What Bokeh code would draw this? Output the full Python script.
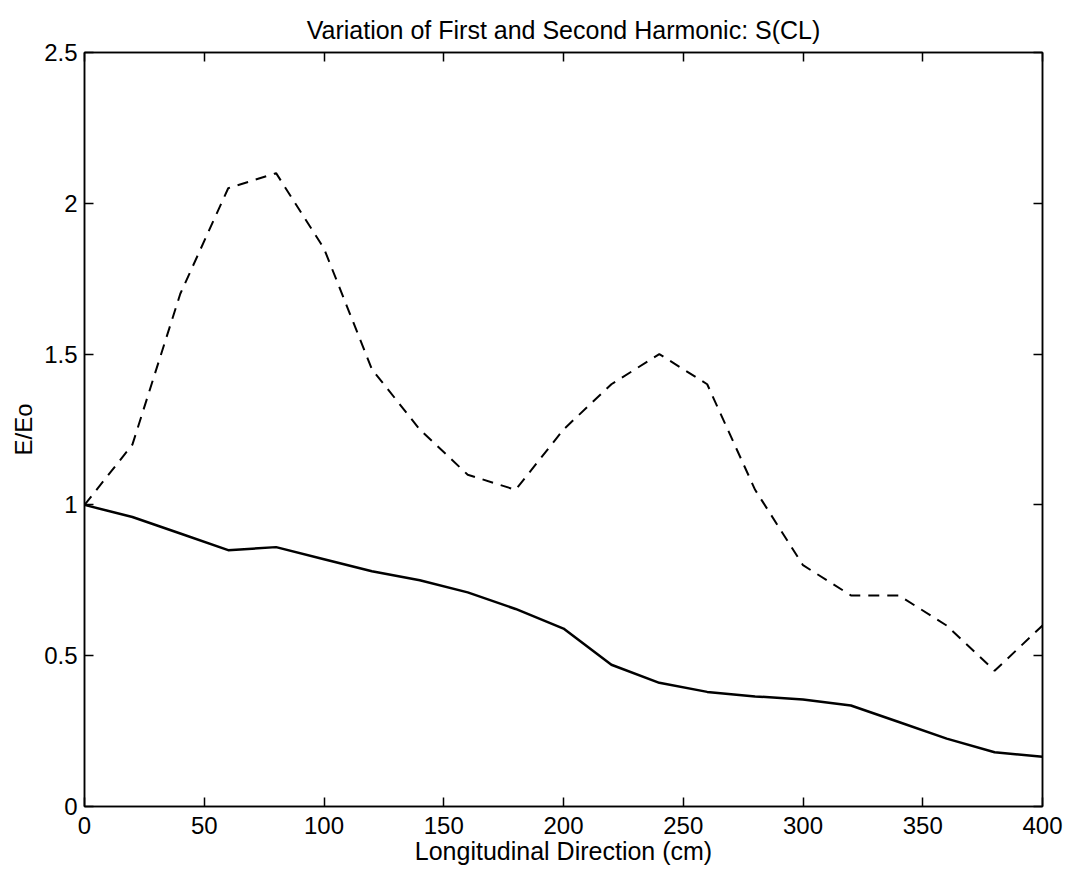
from bokeh.plotting import figure
from bokeh.models import Range1d, LinearAxis, FixedTicker
from bokeh.embed import file_html
from bokeh.resources import INLINE

# Data
x_cm = [0, 20, 40, 60, 80, 100, 120, 140, 160, 180, 200,
        220, 240, 260, 280, 300, 320, 340, 360, 380, 400]
first_harmonic = [1.0, 0.96, 0.905, 0.85, 0.86, 0.82, 0.78, 0.75, 0.71, 0.655, 0.59,
                  0.47, 0.41, 0.38, 0.365, 0.355, 0.335, 0.28, 0.225, 0.18, 0.165]
second_harmonic = [1.0, 1.2, 1.7, 2.05, 2.1, 1.85, 1.45, 1.25, 1.1, 1.05, 1.25,
                   1.4, 1.5, 1.4, 1.05, 0.8, 0.7, 0.7, 0.6, 0.45, 0.6]
x_ticks = [0, 50, 100, 150, 200, 250, 300, 350, 400]
y_ticks = [0, 0.5, 1, 1.5, 2, 2.5]
y_tick_labels = ["0", "0.5", "1", "1.5", "2", "2.5"]

FONT = "Liberation Sans"

p = figure(width=1071, height=878, x_range=Range1d(0, 400), y_range=Range1d(0, 2.5),
           output_backend="svg", toolbar_location=None,
           min_border_left=84, min_border_right=29, min_border_top=52, min_border_bottom=72,
           title="Variation of First and Second Harmonic: S(CL)")
p.background_fill_color = "white"
p.border_fill_color = "white"
p.grid.visible = False
p.outline_line_color = "black"
p.outline_line_width = 1.5

p.title.align = "center"
p.title.text_font = FONT
p.title.text_font_size = "25px"
p.title.text_font_style = "normal"
p.title.text_color = "black"
p.title.standoff = 18

p.line(x_cm, first_harmonic, line_color="black", line_width=2.5)
p.line(x_cm, second_harmonic, line_color="black", line_width=2, line_dash="11 8")

def style(ax, ticks):
    ax.ticker = FixedTicker(ticks=ticks)
    ax.minor_tick_line_color = None
    ax.major_tick_in = 9
    ax.major_tick_out = 0
    ax.axis_line_color = "black"
    ax.axis_line_width = 1.5
    ax.major_tick_line_color = "black"
    ax.major_tick_line_width = 1.5
    ax.major_label_text_font = FONT
    ax.major_label_text_color = "black"
    ax.axis_label_text_font = FONT
    ax.axis_label_text_font_style = "normal"
    ax.axis_label_text_color = "black"

xa = p.xaxis[0]
style(xa, x_ticks)
xa.major_label_text_font_size = "24px"
xa.major_label_standoff = 10
xa.axis_label = "Longitudinal Direction (cm)"
xa.axis_label_text_font_size = "25px"
xa.axis_label_standoff = 0

ya = p.yaxis[0]
style(ya, y_ticks)
ya.major_label_text_font_size = "24px"
ya.major_label_standoff = 7
ya.major_label_overrides = {t: s for t, s in zip(y_ticks, y_tick_labels)}
ya.axis_label = "E/Eo"
ya.axis_label_text_font_size = "24px"
ya.axis_label_standoff = 4

top = LinearAxis()
style(top, x_ticks)
top.major_label_overrides = {t: "" for t in x_ticks}
top.major_label_text_font_size = "1px"
top.major_label_standoff = 0
p.add_layout(top, "above")

right = LinearAxis()
style(right, y_ticks)
right.major_label_overrides = {t: "" for t in y_ticks}
right.major_label_text_font_size = "1px"
right.major_label_standoff = 0
p.add_layout(right, "right")

open("out.html", "w").write(file_html(p, INLINE))
